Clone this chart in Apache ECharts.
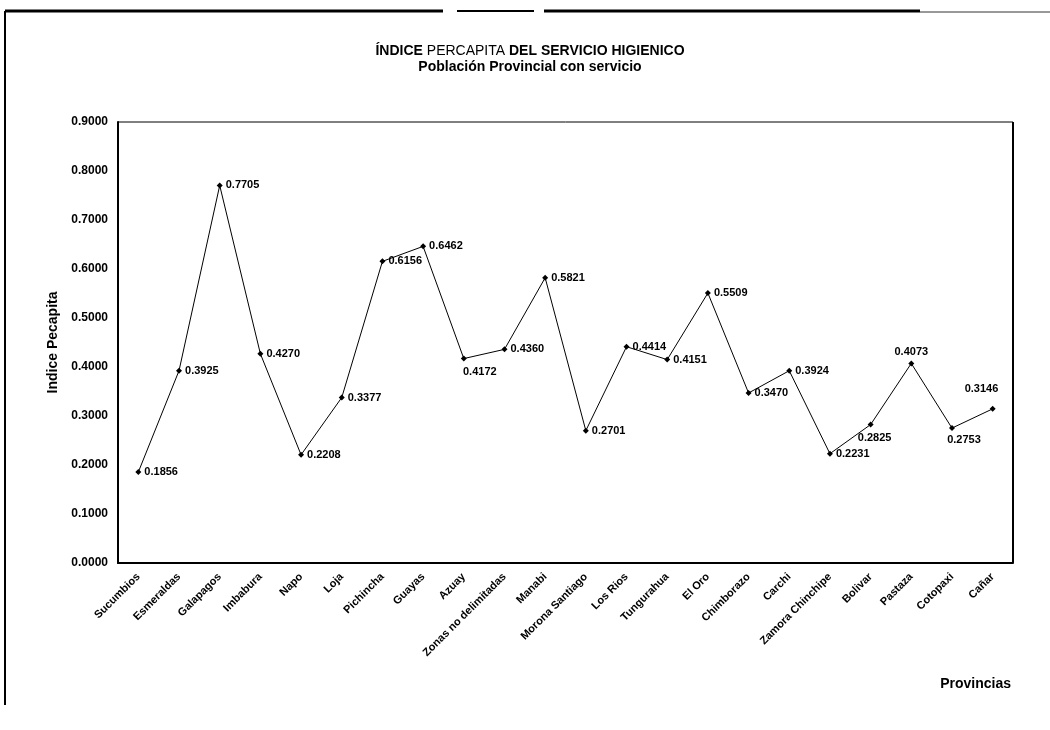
<!DOCTYPE html>
<html>
<head>
<meta charset="utf-8">
<script src="https://cdn.jsdelivr.net/npm/echarts@6/dist/echarts.min.js"></script>
<style>
  html, body { margin: 0; padding: 0; background: #fff; }
  #chart { width: 1050px; height: 730px; }
</style>
</head>
<body>
<div id="chart"></div>
<script>
// provincias y su indice percapita
const provincias = [
  "Sucumbios", "Esmeraldas", "Galapagos", "Imbabura", "Napo", "Loja",
  "Pichincha", "Guayas", "Azuay", "Zonas no delimitadas", "Manabi",
  "Morona Santiago", "Los Rios", "Tungurahua", "El Oro", "Chimborazo",
  "Carchi", "Zamora Chinchipe", "Bolivar", "Pastaza", "Cotopaxi", "Cañar"
];
const indice = [
  0.1856, 0.3925, 0.7705, 0.4270, 0.2208, 0.3377, 0.6156, 0.6462, 0.4172,
  0.4360, 0.5821, 0.2701, 0.4414, 0.4151, 0.5509, 0.3470, 0.3924, 0.2231,
  0.2825, 0.4073, 0.2753, 0.3146
];

// etiquetas que no van a la derecha
const labelPos = { 8: "bottom", 19: "top", 20: "bottom", 18: "bottom" };
const labelOffset = { 8: [16, 2], 21: [-34, -20], 18: [4, 2], 20: [12, 0] };

const font = "'Liberation Sans', Arial, sans-serif";

const seriesData = indice.map((v, i) => {
  const item = { value: v };
  if (labelPos[i] || labelOffset[i]) {
    item.label = {};
    if (labelPos[i]) item.label.position = labelPos[i];
    if (labelOffset[i]) item.label.offset = labelOffset[i];
  }
  return item;
});

const chart = echarts.init(document.getElementById("chart"));
chart.setOption({
  animation: false,
  backgroundColor: "#fff",
  title: {
    left: 525,
    top: 38,
    textAlign: "center",
    text: "{b|ÍNDICE }{n|PERCAPITA }{b|DEL SERVICIO HIGIENICO}\n{b|Población Provincial con servicio}",
    textStyle: {
      fontFamily: font,
      lineHeight: 16,
      rich: {
        b: { fontFamily: font, fontWeight: "bold", fontSize: 14, color: "#000", lineHeight: 16 },
        n: { fontFamily: font, fontWeight: "normal", fontSize: 14, color: "#000", lineHeight: 16 }
      }
    }
  },
  grid: { left: 118, right: 37, top: 122, bottom: 167 },
  xAxis: {
    type: "category",
    data: provincias,
    name: "Provincias",
    nameLocation: "end",
    nameGap: 0,
    nameTextStyle: {
      fontFamily: font, fontWeight: "bold", fontSize: 14, color: "#000",
      padding: [114, 2, 0, 0],
      verticalAlign: "top",
      align: "right"
    },
    axisLine: { lineStyle: { color: "#000", width: 2 } },
    axisTick: { show: false },
    axisLabel: {
      interval: 0,
      rotate: 45,
      margin: 12,
      fontFamily: font,
      fontWeight: "bold",
      fontSize: 11,
      color: "#000"
    }
  },
  yAxis: {
    type: "value",
    min: 0,
    max: 0.9,
    interval: 0.1,
    name: "Indice Pecapita",
    nameLocation: "middle",
    nameGap: 54,
    nameTextStyle: { fontFamily: font, fontWeight: "bold", fontSize: 14, color: "#000" },
    axisLine: { show: true, lineStyle: { color: "#000", width: 2 } },
    axisTick: { show: false },
    splitLine: { show: false },
    axisLabel: {
      fontFamily: font,
      fontWeight: "bold",
      fontSize: 12,
      color: "#000",
      margin: 10,
      formatter: (v) => v.toFixed(4)
    }
  },
  series: [
    {
      type: "line",
      data: seriesData,
      symbol: "diamond",
      symbolSize: 6,
      itemStyle: { color: "#000" },
      lineStyle: { color: "#000", width: 1 },
      label: {
        show: true,
        position: "right",
        distance: 3,
        fontFamily: font,
        fontWeight: "bold",
        fontSize: 11,
        color: "#000",
        formatter: (p) => p.value.toFixed(4)
      }
    }
  ],
  graphic: [
    // marco de la hoja escaneada
    { type: "line", shape: { x1: 5, y1: 11, x2: 443, y2: 11 }, style: { stroke: "#000", lineWidth: 3 } },
    { type: "line", shape: { x1: 457, y1: 11, x2: 534, y2: 11 }, style: { stroke: "#000", lineWidth: 2 } },
    { type: "line", shape: { x1: 544, y1: 11, x2: 920, y2: 11 }, style: { stroke: "#000", lineWidth: 3 } },
    { type: "line", shape: { x1: 920, y1: 12, x2: 1050, y2: 12 }, style: { stroke: "#333", lineWidth: 1 } },
    { type: "line", shape: { x1: 5, y1: 11, x2: 5, y2: 705 }, style: { stroke: "#000", lineWidth: 2 } },
    // borde derecho y superior del area de trazado
    { type: "line", shape: { x1: 1013, y1: 122, x2: 1013, y2: 563 }, style: { stroke: "#000", lineWidth: 2 } },
    { type: "line", shape: { x1: 118, y1: 122, x2: 1013, y2: 122 }, style: { stroke: "#000", lineWidth: 1 } }
  ]
});
</script>
</body>
</html>
